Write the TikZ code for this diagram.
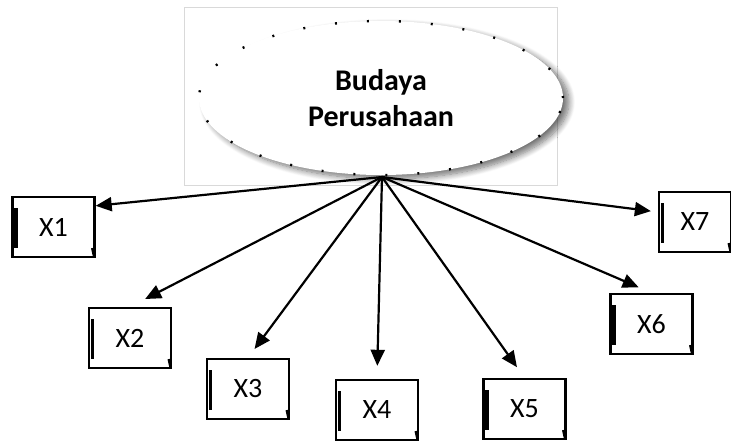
\documentclass[tikz,border=0pt]{standalone}
\usepackage{fontspec}
\setmainfont{Carlito}
\usetikzlibrary{shapes.geometric,arrows.meta,shadows.blur}

\begin{document}
\begin{tikzpicture}[
    x=1pt, y=-1pt,
    >={Triangle[length=16pt,width=14pt]},
    conn/.style={->, line width=2.2pt, shorten >=13pt},
    xbox/.style={draw, line width=2.4pt, minimum width=82pt, minimum height=60pt,
        inner sep=0pt, font=\fontsize{28}{32}\selectfont,
        path picture={
            \draw[line width=3.4pt]
                ([xshift=3.5pt,yshift=-11pt]path picture bounding box.north west) --
                ([xshift=3.5pt,yshift=9pt]path picture bounding box.south west);
            \draw[line width=3pt]
                ([xshift=-2pt,yshift=9pt]path picture bounding box.south east) --
                (path picture bounding box.south east);
        }},
    culture/.style={ellipse, minimum width=364pt, minimum height=154pt,
        draw, line width=2.4pt, dash pattern=on 2pt off 30pt,
        fill=white, align=center,
        blur shadow={shadow xshift=6pt, shadow yshift=-4pt, shadow blur steps=10,
            shadow blur radius=6pt, shadow opacity=55},
        font=\fontsize{30}{36}\selectfont\bfseries}
]
\useasboundingbox (0,0) rectangle (731,440);

% frame of the picture holding the ellipse
\draw[gray!30, line width=0.8pt] (184,7) rectangle (557,185);

% central construct
\node[culture] (bp) at (381,98) {Budaya\\Perusahaan};
\coordinate (hub) at (382,177);

% indicator boxes
\node[xbox] (x1) at (53.5,227) {X1};
\node[xbox] (x2) at (130,338)  {X2};
\node[xbox] (x3) at (248,389)  {X3};
\node[xbox] (x4) at (377,410)  {X4};
\node[xbox] (x5) at (524.5,409) {X5};
\node[xbox] (x6) at (651.5,324) {X6};
\node[xbox, minimum width=72pt] (x7) at (695,222) {X7};

% hub -> indicators
\draw[conn, shorten >=0pt] (hub) -- ([yshift=-10pt]x1.north east);
\draw[conn, shorten >=17pt] (hub) -- (x2.north);
\draw[conn, shorten >=11pt] (hub) -- (x3.north);
\draw[conn] (hub) -- (x4.north);
\draw[conn] (hub) -- (x5.north);
\draw[conn, shorten >=14pt] (hub) -- (x6.north);
\draw[conn, shorten >=7pt] (hub) -- ([yshift=10pt]x7.west);

\end{tikzpicture}
\end{document}
